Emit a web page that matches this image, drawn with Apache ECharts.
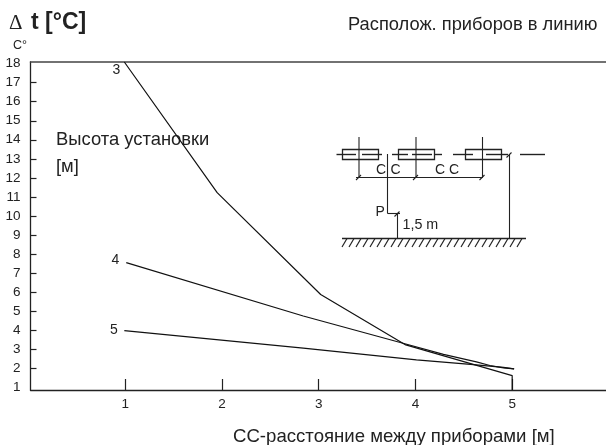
<!DOCTYPE html>
<html>
<head>
<meta charset="utf-8">
<style>html,body{margin:0;padding:0;background:#fff}#chart{width:606px;height:445px}</style>
<script src="https://cdn.jsdelivr.net/npm/echarts@6/dist/echarts.min.js"></script>
</head>
<body>
<div id="chart"></div>
<script>
const xTicks = [1, 2, 3, 4, 5];
const yLabels = [1, 2, 3, 4, 5, 6, 7, 8, 9, 10, 11, 12, 13, 14, 15, 16, 17, 18];
const yTicks = [2, 3, 4, 5, 6, 7, 8, 9, 10, 11, 12, 13, 14, 15, 16, 17];
// [CC distance m, delta t] per mounting height
const height3 = [[0.99, 18.09], [1.95, 11.22], [3.02, 5.86], [3.9, 3.21], [5, 1.6], [5, 0.84]];
const height4 = [[1.01, 7.54], [2.84, 4.73], [3.9, 3.26], [4.29, 2.71], [4.63, 2.32], [4.77, 2.13], [4.91, 2.0], [5.02, 1.95]];
const height5 = [[0.99, 3.96], [2.84, 3.04], [4.01, 2.42], [4.57, 2.19], [4.91, 2.03], [5.02, 1.95]];

const ink = "#222";
const font = "Liberation Sans";

function line(x1, y1, x2, y2, w) {
  return {
    type: "line", silent: true,
    shape: { x1, y1, x2, y2 },
    style: { stroke: ink, lineWidth: w || 1.1 }
  };
}
function text(x, y, s, size, extra) {
  return {
    type: "text", silent: true, x, y,
    style: Object.assign({ text: s, fill: ink, fontFamily: font, fontSize: size, textVerticalAlign: "middle" }, extra)
  };
}
function box(x, y, w, h) {
  return { type: "rect", silent: true, shape: { x, y, width: w, height: h }, style: { fill: "none", stroke: ink, lineWidth: 1.3 } };
}
function slash(x, y) {
  return line(x - 3, y + 3, x + 2, y - 2);
}

// schematic on the right
const sketch = [
  box(342.5, 149.5, 36, 10), box(398.5, 149.5, 36, 10), box(465.5, 149.5, 36, 10),
  line(336.5, 154.5, 356, 154.5, 1.4), line(362, 154.5, 382, 154.5, 1.4),
  line(392, 154.5, 408, 154.5, 1.4), line(412, 154.5, 432, 154.5, 1.4), line(435, 154.5, 442, 154.5, 1.4),
  line(453, 154.5, 473, 154.5, 1.4), line(486, 154.5, 508, 154.5, 1.4), line(520, 154.5, 545, 154.5, 1.4),
  line(359, 137, 359, 177), line(416, 137, 416, 177), line(482.5, 137, 482.5, 177),
  line(356, 177.5, 483, 177.5),
  slash(359, 177), slash(416, 177), slash(482.5, 177),
  line(387.5, 154, 387.5, 213.5), line(387.5, 213.5, 400, 213.5), slash(397.5, 213.5),
  line(397.5, 213.5, 397.5, 238),
  line(509.5, 154.5, 509.5, 238), slash(509.5, 154.5),
  line(342, 238.5, 526, 238.5, 1.3),
  text(376, 170, "C", 14), text(390.5, 170, "C", 14), text(435, 170, "C", 14), text(449, 170, "C", 14),
  text(375.5, 212.5, "P", 14), text(402.5, 225, "1,5 m", 14.3)
];
for (let x = 347; x < 528; x += 7) sketch.push(line(x, 238.5, x - 5, 247, 1.2));

const option = {
  animation: false,
  backgroundColor: "#fff",
  grid: { left: 30.5, right: 0, top: 62, bottom: 55 },
  xAxis: [
    {
      type: "value", min: 0.02, max: 5.97, position: "bottom",
      axisLine: { onZero: false, lineStyle: { color: ink, width: 1.3 } },
      axisTick: { inside: true, length: 11, customValues: xTicks, lineStyle: { color: ink, width: 1.2 } },
      axisLabel: { customValues: xTicks, color: ink, fontFamily: font, fontSize: 13.5, margin: 7 },
      splitLine: { show: false }
    },
    {
      type: "value", min: 0.02, max: 5.97, position: "top",
      axisLine: { onZero: false, lineStyle: { color: "#444", width: 1.5 } },
      axisTick: { show: false }, axisLabel: { show: false }, splitLine: { show: false }
    }
  ],
  yAxis: {
    type: "value", min: 0.84, max: 18.09,
    axisLine: { show: true, onZero: false, lineStyle: { color: ink, width: 1.3 } },
    axisTick: { inside: true, length: 6, customValues: yTicks, lineStyle: { color: ink, width: 1.2 } },
    axisLabel: { customValues: yLabels, color: ink, fontFamily: font, fontSize: 13.5, margin: 10 },
    splitLine: { show: false }
  },
  series: [height3, height4, height5].map(function (d) {
    return {
      type: "line", data: d, symbol: "none", clip: false,
      lineStyle: { color: "#111", width: 1.2 }
    };
  }),
  graphic: [
    text(9, 23, "Δ", 21, { fontFamily: "Liberation Serif" }),
    text(31, 23, "t [°C]", 23, { fontWeight: "bold" }),
    text(348, 25, "Располож. приборов в линию", 18.3),
    text(13, 46, "C°", 12.5),
    text(56, 140, "Высота установки", 18.4),
    text(56, 167, "[м]", 18.4),
    text(112.5, 70, "3", 14), text(111.5, 260, "4", 14), text(110, 330.5, "5", 14),
    text(233, 436.5, "СС-расстояние между приборами [м]", 18.6)
  ].concat(sketch)
};

const chart = echarts.init(document.getElementById("chart"), null, { renderer: "canvas" });
chart.setOption(option);
</script>
</body>
</html>
